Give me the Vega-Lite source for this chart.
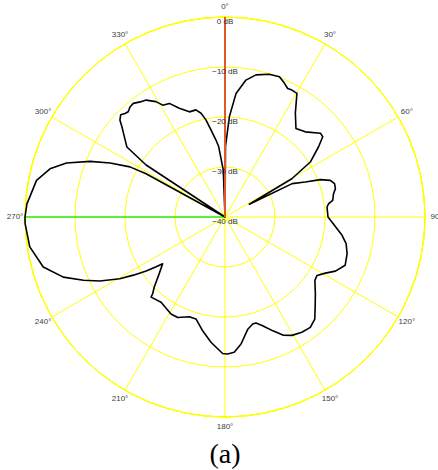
{
  "$schema": "https://vega.github.io/schema/vega-lite/v6.json",
  "width": 400,
  "height": 400,
  "autosize": {"type": "none"},
  "padding": {"left": 25, "top": 17, "right": 13, "bottom": 53},
  "background": "white",
  "config": {"view": {"stroke": null}, "font": "Liberation Sans"},
  "title": {"text": "(a)", "orient": "bottom", "font": "Liberation Serif", "fontSize": 28, "fontWeight": "normal", "color": "#000000", "offset": 10, "anchor": "middle"},
  "datasets": {
    "rings": [{"db": -30}, {"db": -20}, {"db": -10}, {"db": 0}],
    "spokes": [{"angle": 0}, {"angle": 30}, {"angle": 60}, {"angle": 90}, {"angle": 120}, {"angle": 150}, {"angle": 180}, {"angle": 210}, {"angle": 240}, {"angle": 270}, {"angle": 300}, {"angle": 330}],
    "anglelabels": [
      {"angle": 0, "label": "0°"}, {"angle": 30, "label": "30°"}, {"angle": 60, "label": "60°"}, {"angle": 90, "label": "90"},
      {"angle": 120, "label": "120°"}, {"angle": 150, "label": "150°"}, {"angle": 180, "label": "180°"}, {"angle": 210, "label": "210°"},
      {"angle": 240, "label": "240°"}, {"angle": 270, "label": "270°"}, {"angle": 300, "label": "300°"}, {"angle": 330, "label": "330°"}
    ],
    "dblabels": [
      {"db": 0, "label": "0 dB"}, {"db": -10, "label": "−10 dB"}, {"db": -20, "label": "−20 dB"}, {"db": -30, "label": "−30 dB"}, {"db": -40, "label": "−40 dB"}
    ],
    "pattern": [
      {"angle": 0, "db": -40}, {"angle": 0.4, "db": -25.9}, {"angle": 2.5, "db": -19.9}, {"angle": 5.1, "db": -15.2},
      {"angle": 8.7, "db": -12.3}, {"angle": 12.3, "db": -10.9}, {"angle": 17.2, "db": -10.1}, {"angle": 21.2, "db": -9.9},
      {"angle": 23.9, "db": -10.7}, {"angle": 26.0, "db": -11.4}, {"angle": 27.8, "db": -11.3}, {"angle": 30.2, "db": -11.4},
      {"angle": 34.1, "db": -14.9}, {"angle": 38.7, "db": -17.3}, {"angle": 43.3, "db": -16.6}, {"angle": 48.7, "db": -14.6},
      {"angle": 50.6, "db": -14.7}, {"angle": 53.1, "db": -16.6}, {"angle": 57.2, "db": -19.7}, {"angle": 60.2, "db": -24.6},
      {"angle": 62.4, "db": -34.5}, {"angle": 63.6, "db": -25.0}, {"angle": 66.4, "db": -22.5}, {"angle": 68.6, "db": -19.5},
      {"angle": 70.8, "db": -17.7}, {"angle": 73.1, "db": -17.1}, {"angle": 75.6, "db": -17.2}, {"angle": 77.9, "db": -17.8},
      {"angle": 81.2, "db": -18.2}, {"angle": 82.7, "db": -19.1}, {"angle": 84.4, "db": -19.5}, {"angle": 90.0, "db": -19.4},
      {"angle": 92.7, "db": -18.6}, {"angle": 98.9, "db": -16.3}, {"angle": 102.4, "db": -15.2}, {"angle": 106.7, "db": -14.5},
      {"angle": 111.9, "db": -14.1}, {"angle": 116.1, "db": -15.4}, {"angle": 119.2, "db": -17.0}, {"angle": 122.4, "db": -18.2},
      {"angle": 125.2, "db": -18.0}, {"angle": 130.3, "db": -16.3}, {"angle": 135.0, "db": -14.5}, {"angle": 138.7, "db": -12.8},
      {"angle": 142.3, "db": -12.1}, {"angle": 146.3, "db": -12.3}, {"angle": 150.5, "db": -12.8}, {"angle": 153.9, "db": -13.7},
      {"angle": 157.2, "db": -15.3}, {"angle": 160.9, "db": -17.0}, {"angle": 163.7, "db": -17.9}, {"angle": 165.5, "db": -17.9},
      {"angle": 168.5, "db": -17.1}, {"angle": 172.8, "db": -14.4}, {"angle": 176.1, "db": -12.9}, {"angle": 178.9, "db": -12.6},
      {"angle": 181.0, "db": -12.7}, {"angle": 186.4, "db": -14.8}, {"angle": 191.1, "db": -16.8}, {"angle": 195.9, "db": -18.8},
      {"angle": 199.7, "db": -18.8}, {"angle": 205.2, "db": -17.8}, {"angle": 209.1, "db": -17.8}, {"angle": 216.9, "db": -18.7},
      {"angle": 222.7, "db": -18.2}, {"angle": 223.3, "db": -18.9}, {"angle": 225.3, "db": -20.1}, {"angle": 229.2, "db": -22.6},
      {"angle": 233.1, "db": -24.4}, {"angle": 234.1, "db": -23.0}, {"angle": 235.6, "db": -20.9}, {"angle": 237.6, "db": -18.3},
      {"angle": 239.6, "db": -15.6}, {"angle": 242.9, "db": -11.9}, {"angle": 245.9, "db": -9.0}, {"angle": 249.6, "db": -5.5},
      {"angle": 254.6, "db": -2.3}, {"angle": 261.3, "db": -0.5}, {"angle": 268.1, "db": 0.0}, {"angle": 270.0, "db": 0.0},
      {"angle": 273.8, "db": -0.3}, {"angle": 281.0, "db": -1.6}, {"angle": 285.4, "db": -3.7}, {"angle": 288.8, "db": -6.5},
      {"angle": 292.4, "db": -10.8}, {"angle": 295.2, "db": -14.6}, {"angle": 297.8, "db": -18.5}, {"angle": 298.7, "db": -22.0},
      {"angle": 299.3, "db": -40}, {"angle": 303.3, "db": -40}, {"angle": 303.4, "db": -21.1}, {"angle": 305.5, "db": -15.9},
      {"angle": 307.6, "db": -14.8}, {"angle": 309.5, "db": -13.7}, {"angle": 311.2, "db": -12.6}, {"angle": 312.7, "db": -11.4},
      {"angle": 314.4, "db": -10.8}, {"angle": 316.0, "db": -11.2}, {"angle": 317.4, "db": -11.4}, {"angle": 319.3, "db": -10.9},
      {"angle": 321.1, "db": -10.8}, {"angle": 323.6, "db": -11.4}, {"angle": 326.0, "db": -11.8}, {"angle": 329.1, "db": -13.1},
      {"angle": 330.9, "db": -14.4}, {"angle": 333.9, "db": -14.7}, {"angle": 337.2, "db": -16.4}, {"angle": 341.3, "db": -17.8},
      {"angle": 344.8, "db": -17.8}, {"angle": 347.0, "db": -18.7}, {"angle": 348.9, "db": -20.2}, {"angle": 350.9, "db": -22.4},
      {"angle": 353.3, "db": -24.5}, {"angle": 354.9, "db": -25.9}, {"angle": 357.9, "db": -30.6}, {"angle": 359.5, "db": -40}
    ]
  },
  "layer": [
    {
      "data": {"name": "spokes"},
      "transform": [
        {"calculate": "40 * sin(datum.angle * PI / 180)", "as": "sx"},
        {"calculate": "40 * cos(datum.angle * PI / 180)", "as": "sy"},
        {"calculate": "0", "as": "cx"}
      ],
      "mark": {"type": "rule", "color": "#ffff00", "strokeWidth": 1},
      "encoding": {
        "x": {"field": "cx", "type": "quantitative", "scale": {"domain": [-40, 40], "nice": false, "zero": false}, "axis": null},
        "y": {"field": "cx", "type": "quantitative", "scale": {"domain": [-40, 40], "nice": false, "zero": false}, "axis": null},
        "x2": {"field": "sx"},
        "y2": {"field": "sy"}
      }
    },
    {
      "data": {"name": "rings"},
      "mark": {"type": "arc", "filled": false, "stroke": "#ffff00", "strokeWidth": 1, "theta": 0, "theta2": 6.2832},
      "encoding": {
        "radius": {"field": "db", "type": "quantitative", "stack": null, "scale": {"type": "linear", "domain": [-40, 0], "range": [0, 200], "zero": false}}
      }
    },
    {
      "data": {"values": [{"angle": 270, "db": 0}]},
      "transform": [
        {"calculate": "(datum.db + 40) * sin(datum.angle * PI / 180)", "as": "px"},
        {"calculate": "(datum.db + 40) * cos(datum.angle * PI / 180)", "as": "py"},
        {"calculate": "0", "as": "cx"}
      ],
      "mark": {"type": "rule", "color": "#22ee22", "strokeWidth": 1.5},
      "encoding": {
        "x": {"field": "cx", "type": "quantitative"},
        "y": {"field": "cx", "type": "quantitative"},
        "x2": {"field": "px"},
        "y2": {"field": "py"}
      }
    },
    {
      "data": {"name": "pattern"},
      "transform": [
        {"calculate": "(datum.db + 40) * sin(datum.angle * PI / 180)", "as": "px"},
        {"calculate": "(datum.db + 40) * cos(datum.angle * PI / 180)", "as": "py"}
      ],
      "mark": {"type": "line", "color": "#000000", "strokeWidth": 1.6, "strokeJoin": "round"},
      "encoding": {
        "x": {"field": "px", "type": "quantitative"},
        "y": {"field": "py", "type": "quantitative"},
        "order": {"field": "angle", "type": "quantitative"}
      }
    },
    {
      "data": {"values": [{"angle": 0, "db": 0}]},
      "transform": [
        {"calculate": "(datum.db + 40) * sin(datum.angle * PI / 180)", "as": "px"},
        {"calculate": "(datum.db + 40) * cos(datum.angle * PI / 180)", "as": "py"},
        {"calculate": "0", "as": "cx"}
      ],
      "mark": {"type": "rule", "color": "#e2572a", "strokeWidth": 2},
      "encoding": {
        "x": {"field": "cx", "type": "quantitative"},
        "y": {"field": "cx", "type": "quantitative"},
        "x2": {"field": "px"},
        "y2": {"field": "py"}
      }
    },
    {
      "data": {"name": "anglelabels"},
      "transform": [
        {"calculate": "42 * sin(datum.angle * PI / 180)", "as": "lx"},
        {"calculate": "42 * cos(datum.angle * PI / 180)", "as": "ly"}
      ],
      "mark": {"type": "text", "fontSize": 8, "color": "#404040", "align": "center", "baseline": "middle"},
      "encoding": {
        "x": {"field": "lx", "type": "quantitative"},
        "y": {"field": "ly", "type": "quantitative"},
        "text": {"field": "label"}
      }
    },
    {
      "data": {"name": "dblabels"},
      "transform": [
        {"calculate": "datum.db + 40", "as": "ly"},
        {"calculate": "0", "as": "lx"}
      ],
      "mark": {"type": "text", "fontSize": 8, "color": "#333333", "align": "center", "baseline": "middle", "dy": 4.5},
      "encoding": {
        "x": {"field": "lx", "type": "quantitative"},
        "y": {"field": "ly", "type": "quantitative"},
        "text": {"field": "label"}
      }
    }
  ]
}
